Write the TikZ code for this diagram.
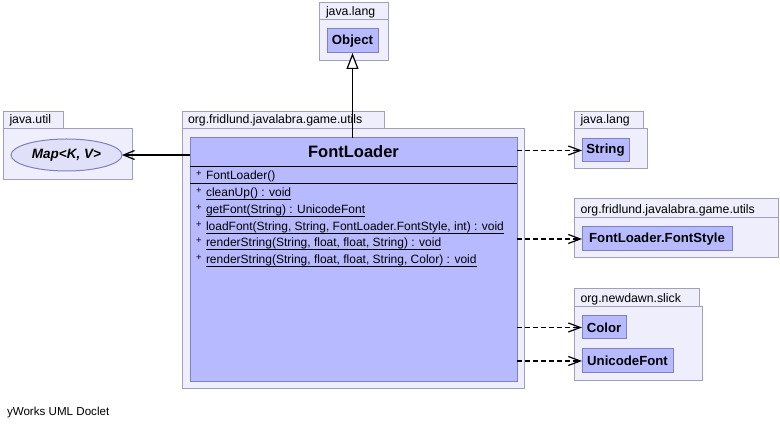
\documentclass[tikz,border=0pt]{standalone}
\usepackage{fontspec}
\setmainfont{Liberation Sans}
\usetikzlibrary{arrows.meta,shapes.geometric}
\definecolor{pkgfill}{RGB}{238,238,252}
\definecolor{pkgline}{RGB}{160,160,186}
\definecolor{clsfill}{RGB}{184,186,255}
\definecolor{clsline}{RGB}{128,128,186}
\definecolor{ifcfill}{RGB}{224,224,248}
\newcommand{\undl}[1]{\setbox0\hbox{#1}\rlap{\rule[-2.6pt]{\wd0}{0.9pt}}\box0}
\begin{document}
\begin{tikzpicture}[x=1pt,y=-1pt,inner sep=0pt,outer sep=0pt,line width=1pt,
pkgbox/.style={draw=pkgline,fill=pkgfill},
pkglabel/.style={anchor=base west,font=\fontsize{12.3}{14}\selectfont},
clsbox/.style={draw=clsline,fill=clsfill,rectangle,font=\fontsize{13.2}{15}\selectfont\bfseries},
member/.style={anchor=base west,font=\fontsize{12}{14}\selectfont},
vis/.style={anchor=base west,font=\fontsize{9.5}{10}\selectfont},
dep/.style={line width=1.2pt,dash pattern=on 5pt off 3pt,-{Straight Barb[length=12pt,width=9pt]}}]

\useasboundingbox (0,0) rectangle (780,427);

% packages
\draw[pkgbox] (319,3) rectangle (388,20);
\draw[pkgbox] (319,20) rectangle (388,61);
\draw (326,16) node[pkglabel] (langTop) {java.lang};
\draw[pkgbox] (3,112) rectangle (63,129);
\draw[pkgbox] (3,129) rectangle (132,180);
\draw (9.5,124) node[pkglabel] (util) {java.util};
\draw[pkgbox] (182,112) rectangle (384,129);
\draw[pkgbox] (182,129) rectangle (524,389);
\draw (188,124) node[pkglabel] (utilsMain) {org.fridlund.javalabra.game.utils};
\draw[pkgbox] (574,112) rectangle (643,129);
\draw[pkgbox] (574,129) rectangle (647,169);
\draw (580.5,124) node[pkglabel] (langRight) {java.lang};
\draw[pkgbox] (574,199) rectangle (778,218);
\draw[pkgbox] (574,218) rectangle (778,258);
\draw (580.5,213.5) node[pkglabel] (utilsRight) {org.fridlund.javalabra.game.utils};
\draw[pkgbox] (574,289) rectangle (699,307);
\draw[pkgbox] (574,307) rectangle (702,381);
\draw (580.5,303) node[pkglabel] (slick) {org.newdawn.slick};

% classes
\draw (352.5,41) node[clsbox,minimum width=51pt,minimum height=24pt] (Obj) {Object};
\draw (66.5,155) node[draw=clsline,fill=ifcfill,ellipse,minimum width=111pt,minimum height=32pt,
  font=\fontsize{13.5}{15}\selectfont\bfseries\itshape] (Map) {Map<K, V>};
\draw (605.5,150.5) node[clsbox,minimum width=47pt,minimum height=23pt] (Str) {String};
\draw (657,239) node[clsbox,minimum width=150pt,minimum height=24pt] (Style) {FontLoader.FontStyle};
\draw (604,327.5) node[clsbox,minimum width=44pt,minimum height=23pt] (Col) {Color};
\draw (627.5,361) node[clsbox,minimum width=91pt,minimum height=24pt] (UFont) {UnicodeFont};

% FontLoader
\draw (353.5,260) node[draw=clsline,fill=clsfill,minimum width=327pt,minimum height=244pt] (FL) {};
\draw (353.5,158) node[anchor=base,font=\fontsize{16.5}{19}\selectfont\bfseries] (FLname) {FontLoader};
\draw[line width=0.8pt] (190,166) -- (517,166);
\draw[line width=0.8pt] (190,183) -- (517,183);
\draw (196,176.5) node[vis] (p0) {+};
\draw (206,180) node[member] (ctor) {FontLoader()};
\draw (196,193.5) node[vis] (p1) {+};
\draw (206,197) node[member] (m1) {\undl{cleanUp() : void}};
\draw (196,210.5) node[vis] (p2) {+};
\draw (206,214) node[member] (m2) {\undl{getFont(String) : UnicodeFont}};
\draw (196,227.5) node[vis] (p3) {+};
\draw (206,231) node[member] (m3) {\undl{loadFont(String, String, FontLoader.FontStyle, int) : void}};
\draw (196,243.5) node[vis] (p4) {+};
\draw (206,247) node[member] (m4) {\undl{renderString(String, float, float, String) : void}};
\draw (196,260.5) node[vis] (p5) {+};
\draw (206,264) node[member] (m5) {\undl{renderString(String, float, float, String, Color) : void}};

% relations
\draw[line width=1.2pt,-{Triangle[open,fill=white,length=16pt,width=12pt]}] (Obj |- FL.north) -- (Obj.south);
\draw[line width=1.2pt,-{Straight Barb[length=11pt,width=9pt]}] (FL.west |- Map) -- (Map.east);
\draw[dep] (FL.east |- Str) -- (Str.west);
\draw[dep] (FL.east |- Style) -- (Style.west);
\draw[dep] (FL.east |- Col) -- (Col.west);
\draw[dep] (FL.east |- UFont) -- (UFont.west);

\draw (7,415.5) node[anchor=base west,font=\fontsize{11.6}{14}\selectfont] (doclet) {yWorks UML Doclet};
\end{tikzpicture}
\end{document}
